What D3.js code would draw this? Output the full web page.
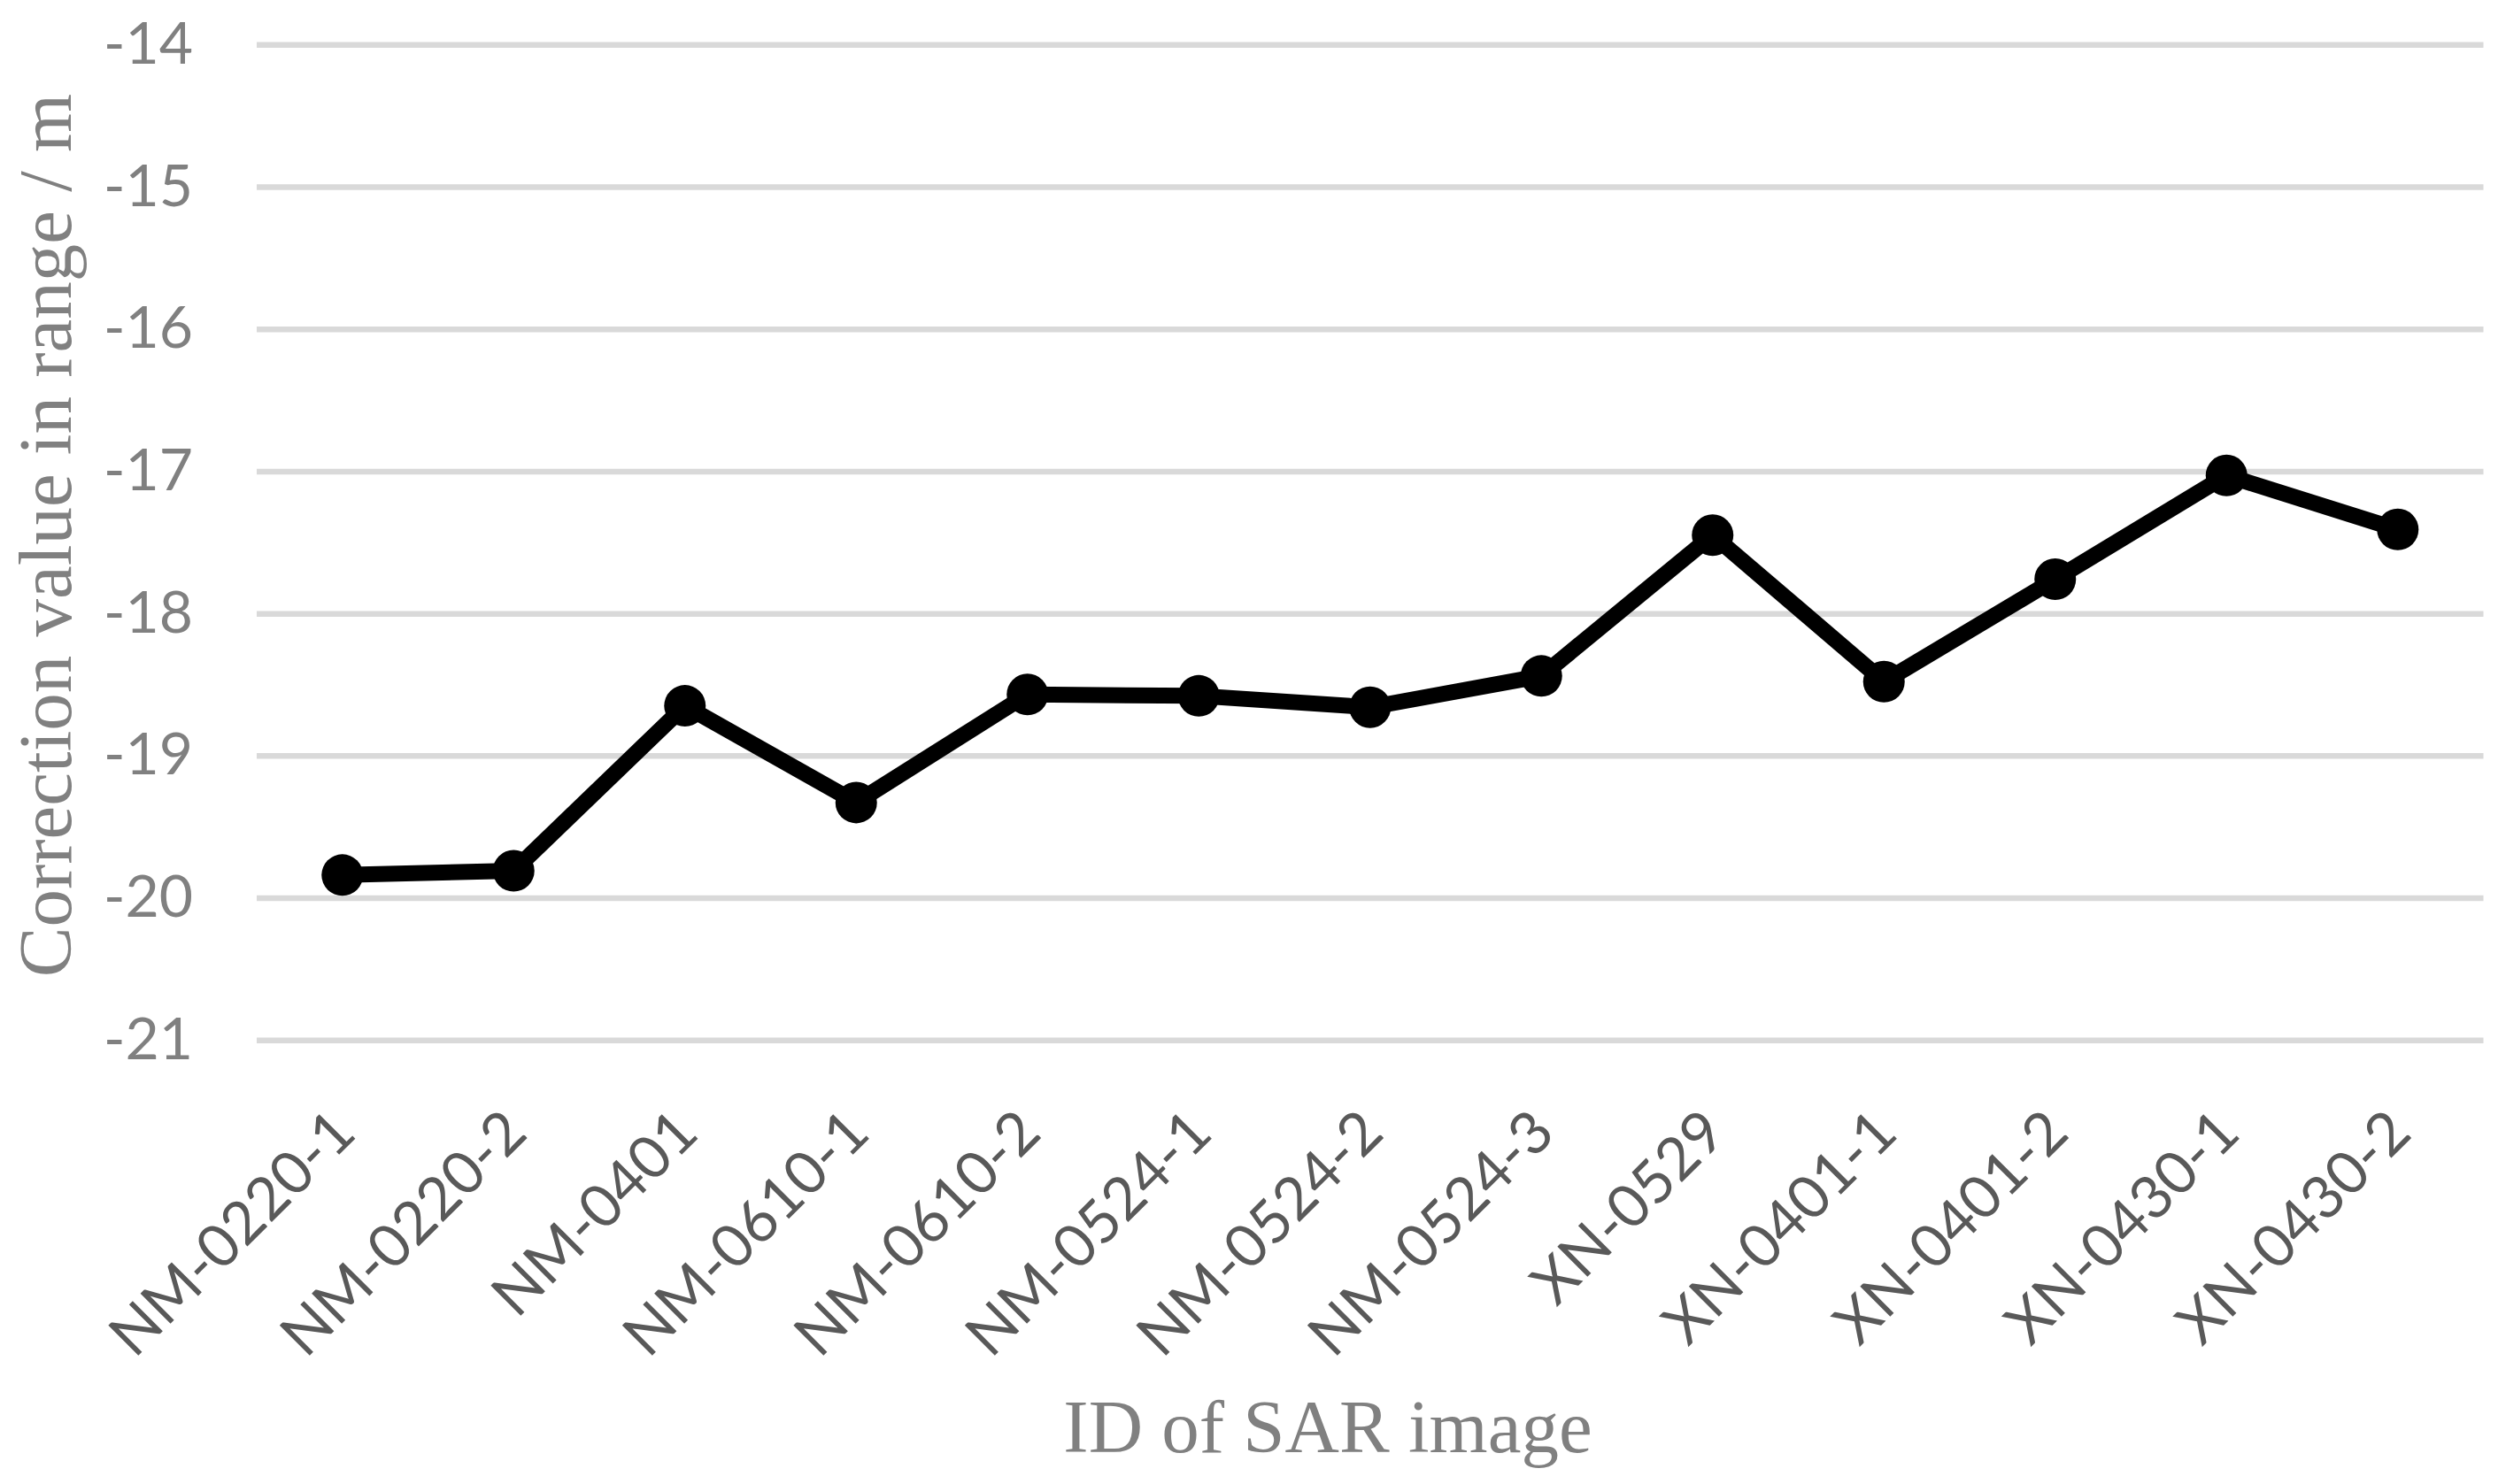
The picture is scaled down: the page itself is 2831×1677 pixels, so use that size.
<!DOCTYPE html>
<html>
<head>
    <script src="https://d3js.org/d3.v7.min.js"></script>
    <style>
        body { margin: 0; background: #fff; }
    </style>
</head>
<body>
    <svg width="2831" height="1677"></svg>
    <script>
        var categories = ["NM-0220-1", "NM-0220-2", "NM-0401", "NM-0610-1", "NM-0610-2", "NM-0524-1",
                          "NM-0524-2", "NM-0524-3", "XN-0529", "XN-0401-1", "XN-0401-2", "XN-0430-1", "XN-0430-2"];
        var values = [-19.84, -19.81, -18.65, -19.33, -18.57, -18.58, -18.66, -18.44, -17.45, -18.48, -17.76, -17.03, -17.41];
        var yTicks = [-21, -20, -19, -18, -17, -16, -15, -14];

        var svg = d3.select("svg"),
            plotLeft = 290, plotRight = 2805.5,
            plotTop = 50.3, plotBottom = 1175.3;

        var x = d3.scaleBand().domain(categories).range([plotLeft, plotRight]).padding(0);
        var y = d3.scaleLinear().domain([-21, -14]).range([plotBottom, plotTop]);

        // y axis labels + gridlines
        var yAxis = svg.append("g")
            .attr("transform", "translate(" + plotLeft + ",0)")
            .call(d3.axisLeft(y).tickValues(yTicks).tickSize(-(plotRight - plotLeft)).tickPadding(72).tickFormat(d3.format("d")));
        yAxis.select(".domain").remove();
        yAxis.selectAll(".tick line").attr("stroke", "#d9d9d9").attr("stroke-width", 6.5);
        yAxis.selectAll(".tick text")
            .attr("fill", "#808080")
            .style("font-family", "Lato, 'Open Sans', sans-serif")
            .style("font-size", "66px")
            .text(function(d) { return d < 0 ? "-" + Math.abs(d) : d; });

        // x axis labels, rotated
        var xAxis = svg.append("g")
            .attr("transform", "translate(0," + plotBottom + ")")
            .call(d3.axisBottom(x).tickSize(0));
        xAxis.select(".domain").remove();
        xAxis.selectAll(".tick text")
            .attr("x", 0).attr("y", 0).attr("dy", 0)
            .attr("text-anchor", "end")
            .attr("transform", "translate(18,108) rotate(-45)")
            .attr("fill", "#595959")
            .style("font-family", "Lato, 'Open Sans', sans-serif")
            .style("font-size", "67px");

        var cx = function(d, i) { return x(categories[i]) + x.bandwidth() / 2; };

        var line = d3.line()
            .x(cx)
            .y(function(d) { return y(d); });

        svg.append("path")
            .datum(values)
            .attr("d", line)
            .attr("fill", "none")
            .attr("stroke", "#000")
            .attr("stroke-width", 18)
            .attr("stroke-linejoin", "round");

        svg.selectAll(".dot").data(values).enter()
            .append("circle")
            .attr("class", "dot")
            .attr("cx", cx)
            .attr("cy", function(d) { return y(d); })
            .attr("r", 23.5)
            .attr("fill", "#000");

        // axis titles
        svg.append("text")
            .attr("x", 1500).attr("y", 1641)
            .attr("text-anchor", "middle")
            .attr("fill", "#808080")
            .style("font-family", "'Liberation Serif', 'Times New Roman', serif")
            .style("font-size", "85px")
            .text("ID of SAR image");

        svg.append("text")
            .attr("transform", "translate(80,605) rotate(-90)")
            .attr("text-anchor", "middle")
            .attr("fill", "#808080")
            .style("font-family", "'Liberation Serif', 'Times New Roman', serif")
            .style("font-size", "85px")
            .text("Correction value in range / m");
    </script>
</body>
</html>
